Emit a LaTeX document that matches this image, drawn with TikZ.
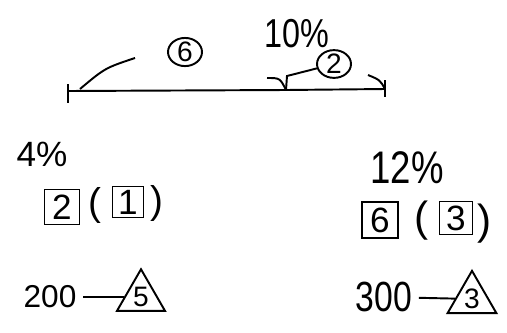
\documentclass[tikz,border=0pt]{standalone}
\usepackage{fontspec}
\setmainfont{Liberation Sans}
\newfontfamily\handn[FakeStretch=0.8]{Liberation Sans}
\usetikzlibrary{shapes.geometric}
\begin{document}
\begin{tikzpicture}[x=0.02cm, y=-0.02cm, line width=1.1pt,
    ring/.style={draw, ellipse, inner sep=0pt, minimum width=0.68cm,
      minimum height=0.52cm, font=\fontsize{16}{18}\selectfont},
    box/.style={draw, inner sep=0pt, minimum size=0.7cm,
      font=\fontsize{20}{22}\selectfont},
    par/.style={inner sep=0pt, font=\fontsize{22}{24}\selectfont},
    tri/.style={draw, regular polygon, regular polygon sides=3, inner sep=0pt,
      minimum size=1.1cm, font=\fontsize{16}{18}\selectfont}]
  \useasboundingbox (0,0) rectangle (507,332);

  % the line
  \coordinate (L) at (68,91);
  \coordinate (M) at (286,90);
  \coordinate (R) at (385,89);
  \draw (L) -- (M) -- (R);
  \draw (L) ++(0,-7) -- ++(0,19);
  \draw (R) ++(0,-9) -- ++(0,17);

  \node[ring] (c6) at (185,52) {6};
  \coordinate (a6) at (135,58);
  \draw (L) ++(12,-2) .. controls (105,68) .. (a6);

  \node[font=\handn\fontsize{23}{25}\selectfont] (pct10) at (297,34) {10\%};
  \node[ring] (c2) at (334,64) {2};
  \coordinate (k2) at (287,76);
  \draw (c2) -- (k2) -- (M);
  \draw (267,78) .. controls (280,78) .. (M);
  \draw (368,75) .. controls (380,80) .. (R);

  % left side
  \node[font=\fontsize{20}{22}\selectfont] (pct4) at (42,154) {4\%};
  \node[box] (b2) at (62,207) {2};
  \node[par] (o1) at (95,205) {(};
  \node[box, minimum size=0.62cm] (b1) at (128,202) {1};
  \node[par] (c1) at (157,203) {)};
  \node[font=\fontsize{18}{20}\selectfont] (n200) at (50,297) {200};
  \node[tri] (t5) at (141,297) {5};
  \draw (n200) -- (t5);

  % right side
  \node[font=\handn\fontsize{26}{28}\selectfont] (pct12) at (407,168) {12\%};
  \node[box, minimum size=0.72cm] (b6) at (380,220) {6};
  \node[par, font=\fontsize{24}{26}\selectfont] (o3) at (422,221) {(};
  \node[box, minimum size=0.66cm] (b3) at (456,218) {3};
  \node[par, font=\fontsize{24}{26}\selectfont] (c3) at (485,224) {)};
  \node[font=\handn\fontsize{24}{26}\selectfont] (n300) at (384,297) {300};
  \node[tri] (t3) at (472,299) {3};
  \draw (n300) -- (t3);
\end{tikzpicture}
\end{document}
